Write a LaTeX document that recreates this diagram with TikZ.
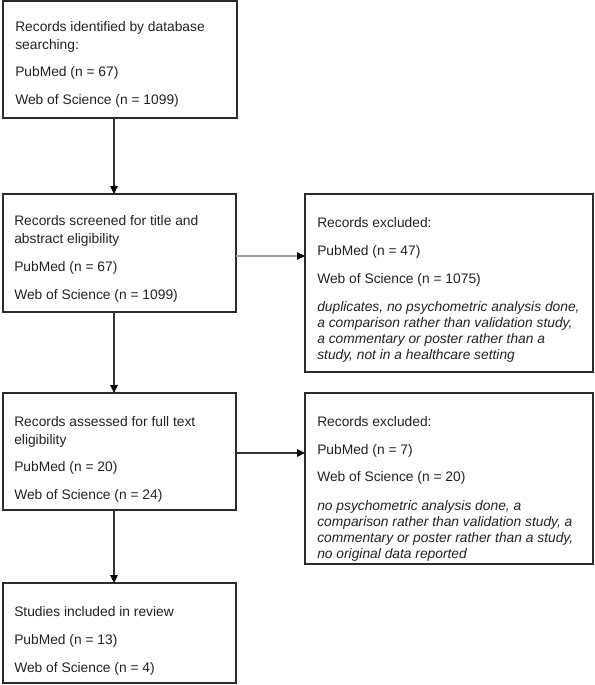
\documentclass[tikz,border=0pt]{standalone}
\usepackage{fontspec}
\setmainfont{Liberation Sans}
\usetikzlibrary{arrows.meta}
\begin{document}
\begin{tikzpicture}[x=0.75pt,y=-0.75pt,
  boxnode/.style={draw=boxgray,line width=1.3pt,inner sep=0pt,outer sep=0pt,anchor=north west},
  txt/.style={anchor=base west,inner sep=0pt,text=textgray,font=\fontsize{10.35pt}{12pt}\selectfont},
  itxt/.style={txt,font=\fontsize{10.35pt}{12pt}\selectfont\itshape},
  arr/.style={draw=arrgray,line width=0.8pt,-{Triangle[length=6pt,width=5.6pt,color=black]}},
  arrl/.style={draw=lightarr,line width=1.1pt,-{Triangle[length=6pt,width=5.6pt,color=black]}}]
\definecolor{boxgray}{HTML}{2B2B2B}
\definecolor{textgray}{HTML}{222222}
\definecolor{arrgray}{HTML}{333333}
\definecolor{lightarr}{HTML}{A0A0A0}
\useasboundingbox (0,0) rectangle (594,685);
% boxes
\node[boxnode,minimum width={234*0.75pt},minimum height={117*0.75pt}] (b1) at (3,1) {};
\node[boxnode,minimum width={233*0.75pt},minimum height={118*0.75pt}] (b2) at (3,194) {};
\node[boxnode,minimum width={288*0.75pt},minimum height={178*0.75pt}] (r1) at (305,194) {};
\node[boxnode,minimum width={233*0.75pt},minimum height={117*0.75pt}] (b3) at (3,393) {};
\node[boxnode,minimum width={288*0.75pt},minimum height={171*0.75pt}] (r2) at (305,393) {};
\node[boxnode,minimum width={233*0.75pt},minimum height={100*0.75pt}] (b4) at (3,583) {};
% box 1 text
\node[txt] (t11) at (15,31.5) {Records identified by database};
\node[txt] (t12) at (15,49.5) {searching:};
\node[txt] (t13) at (15,76.5) {PubMed (n = 67)};
\node[txt] (t14) at (15,104.5) {Web of Science (n = 1099)};
% box 2 text
\node[txt] (t21) at (14,225.5) {Records screened for title and};
\node[txt] (t22) at (14,243.5) {abstract eligibility};
\node[txt] (t23) at (14,271.5) {PubMed (n = 67)};
\node[txt] (t24) at (14,299.5) {Web of Science (n = 1099)};
% right 1 text
\node[txt] (u11) at (317,227.5) {Records excluded:};
\node[txt] (u12) at (317,255.5) {PubMed (n = 47)};
\node[txt] (u13) at (317,283.5) {Web of Science (n = 1075)};
\node[itxt] (u14) at (317,311.5) {duplicates, no psychometric analysis done,};
\node[itxt] (u15) at (317,327.5) {a comparison rather than validation study,};
\node[itxt] (u16) at (317,343.5) {a commentary or poster rather than a};
\node[itxt] (u17) at (317,359.5) {study, not in a healthcare setting};
% box 3 text
\node[txt] (t31) at (14,426.5) {Records assessed for full text};
\node[txt] (t32) at (14,444.5) {eligibility};
\node[txt] (t33) at (14,471.5) {PubMed (n = 20)};
\node[txt] (t34) at (14,499.5) {Web of Science (n = 24)};
% right 2 text
\node[txt] (u21) at (317,426.5) {Records excluded:};
\node[txt] (u22) at (317,454.5) {PubMed (n = 7)};
\node[txt] (u23) at (317,481.5) {Web of Science (n = 20)};
\node[itxt] (u24) at (317,510.5) {no psychometric analysis done, a};
\node[itxt] (u25) at (317,526.5) {comparison rather than validation study, a};
\node[itxt] (u26) at (317,542.5) {commentary or poster rather than a study,};
\node[itxt] (u27) at (317,558.5) {no original data reported};
% box 4 text
\node[txt] (t41) at (14,616.5) {Studies included in review};
\node[txt] (t42) at (14,644.5) {PubMed (n = 13)};
\node[txt] (t43) at (14,672.5) {Web of Science (n = 4)};
% connectors
\coordinate (ax) at (114,0);
\coordinate (h1) at (0,256);
\coordinate (h2) at (0,453);
\draw[arr] (b1.south -| ax) -- (b2.north -| ax);
\draw[arr] (b2.south -| ax) -- (b3.north -| ax);
\draw[arr] (b3.south -| ax) -- (b4.north -| ax);
\draw[arrl] (b2.east |- h1) -- (r1.west |- h1);
\draw[arr] (b3.east |- h2) -- (r2.west |- h2);
\end{tikzpicture}
\end{document}
